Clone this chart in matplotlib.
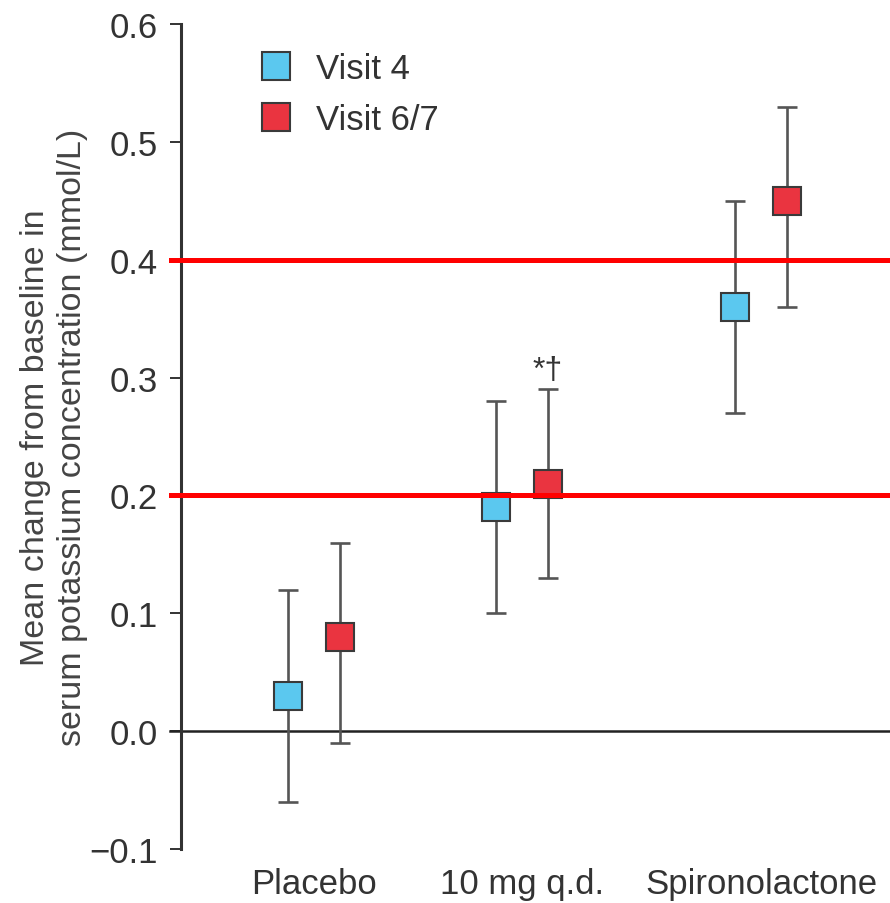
import matplotlib
matplotlib.use("Agg")
import matplotlib.pyplot as plt
import numpy as np

categories = ["Placebo", "10 mg q.d.", "Spironolactone"]
series_names = ["Visit 4", "Visit 6/7"]
visit4_mean = [0.03, 0.19, 0.36]
visit4_low = [-0.06, 0.10, 0.27]
visit4_high = [0.12, 0.28, 0.45]
visit67_mean = [0.08, 0.21, 0.45]
visit67_low = [-0.01, 0.13, 0.36]
visit67_high = [0.16, 0.29, 0.53]
ref_lines = [0.4, 0.2]
yticks = [-0.1, 0.0, 0.1, 0.2, 0.3, 0.4, 0.5, 0.6]
ytick_labels = ["\u22120.1", "0.0", "0.1", "0.2", "0.3", "0.4", "0.5", "0.6"]

plt.rcParams['font.family'] = ['Liberation Sans', 'DejaVu Sans']

W, H = 890, 904
fig = plt.figure(figsize=(W / 100, H / 100), dpi=100)
ax = fig.add_axes([181 / W, 1 - 850 / H, (W - 181) / W, 825 / H])

cat_pos = np.array([1.0, 2.0, 3.15])
off = 0.125
col4 = "#5BC8EF"
col67 = "#EA3440"
edge = "#3a3a3a"
errc = "#555555"

def draw(xs, mean, low, high, color, label):
    mean = np.array(mean); low = np.array(low); high = np.array(high)
    ax.errorbar(xs, mean, yerr=[mean - low, high - mean], fmt='none',
                ecolor=errc, elinewidth=1.9, capsize=7, capthick=1.9, zorder=3)
    ax.plot(xs, mean, 's', ms=19.5, mfc=color, mec=edge, mew=1.5, zorder=4, label=label)

ax.axhline(0.0, xmin=-11 / 709, xmax=1, color="#222222", lw=1.8, clip_on=False, zorder=2)
for v in ref_lines:
    ax.axhline(v, xmin=-10 / 709, xmax=1, color="#FF0000", lw=3.6, clip_on=False, zorder=5)

draw(cat_pos - off, visit4_mean, visit4_low, visit4_high, col4, series_names[0])
draw(cat_pos + off, visit67_mean, visit67_low, visit67_high, col67, series_names[1])

ax.text(cat_pos[1] + off, visit67_high[1] + 0.004, "*\u2020", ha='center', va='bottom',
        fontsize=23, color="#333333")

ax.set_xlim(1 - 133 / 208, 1 + 576 / 208)
ax.set_ylim(-0.1, 0.6)
ax.set_yticks(yticks)
ax.set_yticklabels(ytick_labels)
ax.set_xticks(cat_pos)
ax.set_xticklabels(categories)

for s in ['top', 'right', 'bottom']:
    ax.spines[s].set_visible(False)
ax.spines['left'].set_color("#333333")
ax.spines['left'].set_linewidth(2.2)
ax.tick_params(axis='y', length=8, width=1.4, color="#333333", labelsize=25,
               labelcolor="#333333", pad=9)
ax.tick_params(axis='x', length=0, labelsize=25, labelcolor="#333333", pad=13)

ax.set_ylabel("Mean change from baseline in\nserum potassium concentration (mmol/L)",
              fontsize=24.5, color="#444444", linespacing=1.25)
ax.yaxis.set_label_coords(-0.131, 0.5)

leg = ax.legend(loc='upper left', bbox_to_anchor=(0.066, 1.004), frameon=False,
                fontsize=25, handletextpad=0.63, labelspacing=0.52, markerscale=1.0,
                handlelength=1.0, borderpad=0.4, numpoints=1)
for t in leg.get_texts():
    t.set_color("#333333")

fig.savefig("out.png", dpi=100)
